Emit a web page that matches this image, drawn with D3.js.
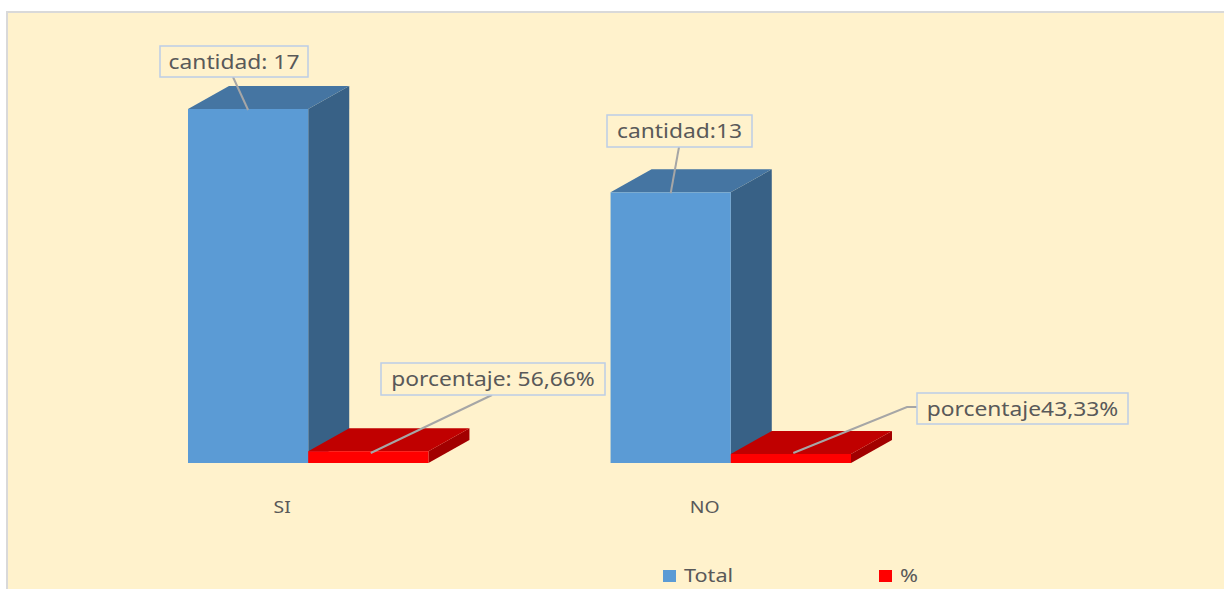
<!DOCTYPE html>
<html>

<head>
  <script src="https://d3js.org/d3.v7.min.js"></script>
  <style>
    body {
      margin: 0;
      background: #fff;
    }
    text {
      font-family: "Noto Sans", "Open Sans", sans-serif;
      fill: #595959;
    }
  </style>
</head>

<body>
  <script>
    const width = 1224;
    const height = 589;

    // datos
    const categories = ["SI", "NO"];
    const series = ["Total", "%"];
    const totalValues = [17, 13];
    const pctValues = [0.5666, 0.4333];
    const totalLabels = ["cantidad: 17", "cantidad:13"];
    const pctLabels = ["porcentaje: 56,66%", "porcentaje43,33%"];

    // colores por serie: frente, arriba, lado
    const colors = {
      "Total": { front: "#5b9bd5", top: "#4575a2", side: "#386186" },
      "%": { front: "#ff0000", top: "#c00000", side: "#a20000" }
    };

    // profundidad 3D
    const dx = 41, dy = -23;
    // el texto del original esta algo estirado en horizontal
    const stretch = 1.14;

    const svg = d3.select("body")
      .append("svg")
      .attr("width", width)
      .attr("height", height);

    // fondo del grafico
    svg.append("rect")
      .attr("x", 7)
      .attr("y", 12)
      .attr("width", width + 10)
      .attr("height", height + 10)
      .attr("fill", "#fff2cc")
      .attr("stroke", "#d9d9d9")
      .attr("stroke-width", 2);

    const x = d3.scaleBand()
      .domain(categories)
      .range([188, 851])
      .paddingInner(0.431);

    const xs = d3.scaleBand()
      .domain(series)
      .range([0, x.bandwidth()]);

    const y = d3.scaleLinear()
      .domain([0, 17])
      .range([463, 109]);

    const rows = categories.map((c, i) => ({
      cat: c,
      bars: [
        { s: "Total", v: totalValues[i] },
        { s: "%", v: pctValues[i] }
      ]
    }));

    function prism(g, x0, w, v, col) {
      const x1 = x0 + w;
      const yt = y(v), yb = y(0);
      // cara lateral
      g.append("path")
        .attr("d", `M${x1},${yt}L${x1 + dx},${yt + dy}L${x1 + dx},${yb + dy}L${x1},${yb}Z`)
        .attr("fill", col.side);
      // cara superior
      g.append("path")
        .attr("d", `M${x0},${yt}L${x0 + dx},${yt + dy}L${x1 + dx},${yt + dy}L${x1},${yt}Z`)
        .attr("fill", col.top);
      // cara frontal
      g.append("rect")
        .attr("x", x0)
        .attr("y", yt)
        .attr("width", w)
        .attr("height", yb - yt)
        .attr("fill", col.front);
    }

    rows.forEach(r => {
      const g = svg.append("g");
      r.bars.forEach(b => {
        prism(g, x(r.cat) + xs(b.s), xs.bandwidth(), b.v, colors[b.s]);
      });
    });

    function stretchedText(px, py, txt, size, anchor) {
      return svg.append("text")
        .attr("transform", `translate(${px},${py}) scale(${stretch},1)`)
        .attr("text-anchor", anchor)
        .style("font-size", size + "px")
        .text(txt);
    }

    // etiquetas de categoria
    categories.forEach(c => {
      stretchedText(x(c) + x.bandwidth() / 2 - 26, 513, c, 17, "middle");
    });

    // etiquetas de datos con linea guia
    const labelLayout = [
      { s: "Total", i: 0, bx: 160, by: 46, bw: 148, bh: 31, from: [233, 77], elbow: null },
      { s: "Total", i: 1, bx: 607, by: 115, bw: 145, bh: 32, from: [679, 147], elbow: null },
      { s: "%", i: 0, bx: 381, by: 363, bw: 224, bh: 32, from: [492, 395], elbow: null },
      { s: "%", i: 1, bx: 917, by: 393, bw: 211, bh: 31, from: [917, 407], elbow: [907, 407] }
    ];

    labelLayout.forEach(l => {
      const cat = categories[l.i];
      const v = l.s === "Total" ? totalValues[l.i] : pctValues[l.i];
      const txt = l.s === "Total" ? totalLabels[l.i] : pctLabels[l.i];
      const bx0 = x(cat) + xs(l.s);
      const tip = l.s === "Total"
        ? [bx0 + xs.bandwidth() * 0.5, y(v) + 1]
        : [bx0 + xs.bandwidth() * 0.52, y(0) - 10];
      const pts = [l.from];
      if (l.elbow) pts.push(l.elbow);
      pts.push(tip);
      svg.append("path")
        .attr("d", d3.line()(pts))
        .attr("fill", "none")
        .attr("stroke", "#a6a6a6")
        .attr("stroke-width", 2);
      svg.append("rect")
        .attr("x", l.bx)
        .attr("y", l.by)
        .attr("width", l.bw)
        .attr("height", l.bh)
        .attr("fill", "#fff2cc")
        .attr("stroke", "#bccde6")
        .attr("stroke-width", 1.5);
      stretchedText(l.bx + l.bw / 2, l.by + l.bh / 2 + 7, txt, 20, "middle");
    });

    // leyenda
    const legendX = [663, 879];
    series.forEach((s, i) => {
      svg.append("rect")
        .attr("x", legendX[i])
        .attr("y", 570)
        .attr("width", 13)
        .attr("height", 12)
        .attr("fill", colors[s].front);
      stretchedText(legendX[i] + 21, 582, s, 19, "start");
    });
  </script>
</body>

</html>
